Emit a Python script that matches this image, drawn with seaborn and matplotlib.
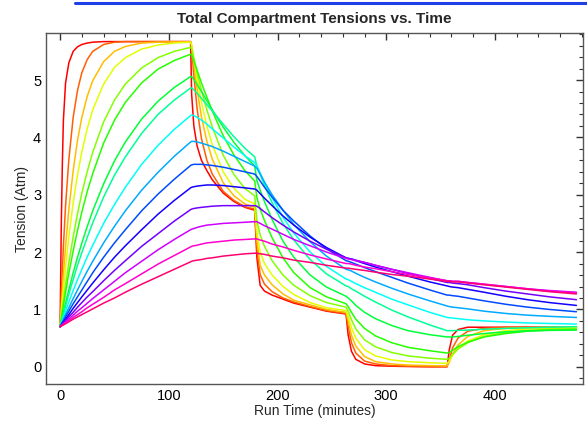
import numpy as np
import pandas as pd
import seaborn as sns
import matplotlib
matplotlib.use("Agg")
import matplotlib.pyplot as plt
from matplotlib.lines import Line2D
from matplotlib.ticker import MultipleLocator

# Run time (minutes) shared by all compartments
run_time = [0, 1, 2, 3, 5, 8, 12, 16, 20, 25, 30, 40, 50, 60, 75, 90, 105, 120,
            121, 123, 126, 130, 135, 140, 150, 160, 170, 179,
            181, 184, 188, 195, 205, 215, 230, 245, 263,
            265, 268, 272, 280, 290, 305, 320, 340, 356,
            358, 361, 366, 375, 390, 410, 430, 450, 475]

# Compartment tensions (Atm), fastest (c01) to slowest (c16)
tension_c01 = [0.70, 2.40, 3.50, 4.30, 4.95, 5.30, 5.50, 5.58, 5.62, 5.645, 5.66, 5.67, 5.67, 5.67, 5.67, 5.67, 5.67, 5.67,
               4.75, 4.20, 3.85, 3.60, 3.42, 3.26, 3.03, 2.88, 2.78, 2.73,
               1.90, 1.42, 1.32, 1.25, 1.18, 1.11, 1.04, 0.97, 0.92,
               0.55, 0.27, 0.13, 0.05, 0.02, 0.01, 0.005, 0.0, 0.0,
               0.30, 0.55, 0.65, 0.69, 0.69, 0.69, 0.69, 0.69, 0.69]
tension_c02 = [0.70, 1.22, 1.68, 2.10, 2.81, 3.61, 4.35, 4.82, 5.13, 5.36, 5.50, 5.62, 5.66, 5.67, 5.67, 5.67, 5.67, 5.67,
               5.56, 5.08, 4.50, 3.98, 3.60, 3.36, 3.06, 2.90, 2.79, 2.75,
               2.05, 1.61, 1.44, 1.31, 1.20, 1.13, 1.05, 0.98, 0.93,
               0.70, 0.42, 0.24, 0.10, 0.05, 0.02, 0.01, 0.005, 0.005,
               0.12, 0.33, 0.50, 0.62, 0.67, 0.69, 0.69, 0.69, 0.69]
tension_c03 = [0.70, 1.02, 1.32, 1.60, 2.10, 2.74, 3.42, 3.95, 4.35, 4.72, 4.99, 5.32, 5.50, 5.585, 5.645, 5.66, 5.665, 5.665,
               5.60, 5.28, 4.84, 4.36, 3.93, 3.62, 3.21, 2.98, 2.84, 2.78,
               2.20, 1.77, 1.60, 1.43, 1.27, 1.16, 1.08, 1.00, 0.95,
               0.80, 0.55, 0.36, 0.18, 0.09, 0.05, 0.03, 0.02, 0.015,
               0.08, 0.22, 0.38, 0.53, 0.63, 0.67, 0.68, 0.69, 0.69]
tension_c04 = [0.70, 0.93, 1.15, 1.36, 1.75, 2.27, 2.86, 3.35, 3.75, 4.16, 4.48, 4.93, 5.22, 5.39, 5.54, 5.61, 5.646, 5.66,
               5.61, 5.37, 5.02, 4.61, 4.20, 3.87, 3.40, 3.11, 2.92, 2.84,
               2.35, 2.00, 1.80, 1.60, 1.40, 1.26, 1.12, 1.03, 0.98,
               0.88, 0.68, 0.50, 0.30, 0.19, 0.12, 0.09, 0.07, 0.06,
               0.10, 0.20, 0.32, 0.45, 0.56, 0.63, 0.66, 0.67, 0.68]
tension_c05 = [0.70, 0.85, 1.00, 1.15, 1.43, 1.81, 2.27, 2.67, 3.03, 3.41, 3.74, 4.27, 4.65, 4.93, 5.21, 5.39, 5.50, 5.57,
               5.54, 5.38, 5.13, 4.82, 4.48, 4.18, 3.69, 3.35, 3.11, 2.98,
               2.55, 2.30, 2.10, 1.85, 1.60, 1.42, 1.24, 1.12, 1.04,
               0.97, 0.82, 0.66, 0.47, 0.35, 0.25, 0.19, 0.15, 0.13,
               0.15, 0.22, 0.31, 0.42, 0.53, 0.60, 0.635, 0.655, 0.665]
tension_c06 = [0.70, 0.83, 0.95, 1.07, 1.30, 1.63, 2.02, 2.38, 2.70, 3.06, 3.37, 3.90, 4.30, 4.61, 4.95, 5.19, 5.34, 5.45,
               5.43, 5.33, 5.17, 4.95, 4.70, 4.46, 4.03, 3.69, 3.42, 3.24,
               2.95, 2.75, 2.55, 2.25, 1.90, 1.64, 1.38, 1.22, 1.10,
               1.05, 0.95, 0.83, 0.67, 0.54, 0.42, 0.34, 0.28, 0.24,
               0.25, 0.29, 0.35, 0.43, 0.52, 0.58, 0.62, 0.64, 0.65]
tension_c07 = [0.70, 0.79, 0.87, 0.95, 1.11, 1.34, 1.64, 1.91, 2.16, 2.45, 2.72, 3.19, 3.59, 3.92, 4.32, 4.63, 4.87, 5.06,
               5.06, 5.01, 4.92, 4.80, 4.64, 4.48, 4.18, 3.91, 3.68, 3.50,
               3.25, 3.08, 2.88, 2.57, 2.19, 1.91, 1.60, 1.39, 1.23,
               1.20, 1.15, 1.07, 0.95, 0.84, 0.72, 0.63, 0.56, 0.52,
               0.52, 0.52, 0.53, 0.55, 0.58, 0.61, 0.625, 0.635, 0.64]
tension_c08 = [0.70, 0.77, 0.85, 0.92, 1.06, 1.27, 1.52, 1.77, 1.99, 2.26, 2.51, 2.96, 3.34, 3.66, 4.07, 4.40, 4.65, 4.86,
               4.86, 4.83, 4.77, 4.68, 4.57, 4.46, 4.23, 4.01, 3.81, 3.66,
               3.50, 3.36, 3.16, 2.86, 2.50, 2.21, 1.87, 1.62, 1.41,
               1.40, 1.36, 1.32, 1.23, 1.13, 0.99, 0.87, 0.73, 0.63,
               0.63, 0.63, 0.635, 0.64, 0.655, 0.67, 0.68, 0.69, 0.70]
tension_c09 = [0.70, 0.75, 0.81, 0.86, 0.97, 1.13, 1.33, 1.52, 1.70, 1.92, 2.12, 2.50, 2.83, 3.13, 3.53, 3.86, 4.14, 4.38,
               4.39, 4.38, 4.35, 4.30, 4.23, 4.15, 3.99, 3.83, 3.68, 3.56,
               3.50, 3.38, 3.21, 2.95, 2.61, 2.33, 2.00, 1.75, 1.53,
               1.52, 1.49, 1.45, 1.38, 1.30, 1.18, 1.08, 0.95, 0.86,
               0.855, 0.85, 0.84, 0.82, 0.80, 0.78, 0.765, 0.755, 0.745]
tension_c10 = [0.70, 0.74, 0.78, 0.83, 0.91, 1.03, 1.19, 1.34, 1.49, 1.67, 1.84, 2.16, 2.45, 2.72, 3.08, 3.39, 3.67, 3.92,
               3.93, 3.93, 3.92, 3.90, 3.87, 3.84, 3.76, 3.67, 3.58, 3.50,
               3.46, 3.36, 3.22, 3.00, 2.73, 2.48, 2.18, 1.93, 1.70,
               1.69, 1.67, 1.63, 1.56, 1.48, 1.37, 1.27, 1.15, 1.06,
               1.05, 1.04, 1.03, 1.01, 0.97, 0.93, 0.90, 0.88, 0.86]
tension_c11 = [0.70, 0.73, 0.77, 0.80, 0.87, 0.97, 1.10, 1.22, 1.34, 1.49, 1.64, 1.91, 2.16, 2.39, 2.72, 3.01, 3.27, 3.51,
               3.52, 3.53, 3.53, 3.53, 3.52, 3.51, 3.48, 3.44, 3.40, 3.36,
               3.32, 3.24, 3.13, 2.96, 2.73, 2.54, 2.28, 2.06, 1.85,
               1.84, 1.82, 1.79, 1.73, 1.66, 1.56, 1.46, 1.34, 1.25,
               1.25, 1.24, 1.23, 1.20, 1.15, 1.09, 1.04, 1.00, 0.96]
tension_c12 = [0.70, 0.73, 0.755, 0.78, 0.83, 0.91, 1.02, 1.12, 1.22, 1.34, 1.46, 1.69, 1.91, 2.11, 2.39, 2.66, 2.90, 3.12,
               3.13, 3.14, 3.15, 3.16, 3.17, 3.17, 3.16, 3.14, 3.12, 3.10,
               3.08, 3.02, 2.94, 2.81, 2.63, 2.47, 2.26, 2.08, 1.90,
               1.89, 1.88, 1.85, 1.80, 1.74, 1.66, 1.58, 1.48, 1.41,
               1.40, 1.39, 1.38, 1.35, 1.30, 1.23, 1.17, 1.12, 1.07]
tension_c13 = [0.70, 0.72, 0.745, 0.765, 0.81, 0.87, 0.95, 1.04, 1.12, 1.22, 1.31, 1.50, 1.68, 1.85, 2.10, 2.32, 2.54, 2.74,
               2.75, 2.76, 2.77, 2.78, 2.79, 2.80, 2.81, 2.81, 2.81, 2.81,
               2.80, 2.76, 2.70, 2.60, 2.47, 2.35, 2.19, 2.05, 1.90,
               1.89, 1.88, 1.86, 1.82, 1.77, 1.70, 1.63, 1.54, 1.47,
               1.47, 1.46, 1.45, 1.43, 1.38, 1.32, 1.27, 1.22, 1.17]
tension_c14 = [0.70, 0.72, 0.735, 0.75, 0.785, 0.835, 0.90, 0.97, 1.03, 1.11, 1.19, 1.34, 1.49, 1.64, 1.84, 2.04, 2.22, 2.39,
               2.40, 2.41, 2.43, 2.45, 2.47, 2.48, 2.50, 2.51, 2.52, 2.53,
               2.53, 2.50, 2.46, 2.40, 2.31, 2.22, 2.11, 2.00, 1.89,
               1.88, 1.87, 1.85, 1.82, 1.77, 1.70, 1.64, 1.56, 1.50,
               1.50, 1.49, 1.49, 1.47, 1.44, 1.40, 1.36, 1.33, 1.30]
tension_c15 = [0.70, 0.71, 0.725, 0.74, 0.77, 0.81, 0.86, 0.91, 0.96, 1.03, 1.09, 1.21, 1.34, 1.45, 1.62, 1.79, 1.94, 2.09,
               2.10, 2.11, 2.12, 2.14, 2.16, 2.17, 2.19, 2.21, 2.22, 2.23,
               2.23, 2.21, 2.19, 2.14, 2.09, 2.03, 1.95, 1.88, 1.80,
               1.80, 1.79, 1.77, 1.74, 1.71, 1.66, 1.61, 1.55, 1.50,
               1.50, 1.49, 1.49, 1.47, 1.44, 1.40, 1.36, 1.32, 1.29]
tension_c16 = [0.70, 0.71, 0.72, 0.73, 0.75, 0.785, 0.83, 0.87, 0.91, 0.96, 1.01, 1.11, 1.20, 1.30, 1.44, 1.57, 1.70, 1.83,
               1.84, 1.85, 1.86, 1.87, 1.89, 1.90, 1.93, 1.95, 1.97, 1.98,
               1.98, 1.97, 1.96, 1.93, 1.90, 1.86, 1.82, 1.77, 1.72,
               1.72, 1.71, 1.70, 1.68, 1.65, 1.61, 1.58, 1.53, 1.49,
               1.49, 1.48, 1.48, 1.46, 1.43, 1.39, 1.35, 1.31, 1.27]

compartments = [tension_c01, tension_c02, tension_c03, tension_c04, tension_c05, tension_c06,
                tension_c07, tension_c08, tension_c09, tension_c10, tension_c11, tension_c12,
                tension_c13, tension_c14, tension_c15, tension_c16]

# Long-form table for seaborn
frames = []
for i, vals in enumerate(compartments):
    frames.append(pd.DataFrame({'time': run_time, 'tension': vals, 'comp': i + 1}))
df = pd.concat(frames, ignore_index=True)

sns.set_style("white")
plt.rcParams['font.family'] = ['Liberation Sans', 'DejaVu Sans']

# rainbow: red (fast) through magenta to crimson (slow)
palette = [plt.cm.hsv(h) for h in np.linspace(0, 0.94, len(compartments))]

fig = plt.figure(figsize=(5.87, 4.22), dpi=100)
ax = fig.add_axes([46 / 587, 1 - 384 / 422, (583 - 46) / 587, (384 - 33) / 422])

sns.lineplot(data=df, x='time', y='tension', hue='comp', palette=palette,
             legend=False, linewidth=1.1, ax=ax, estimator=None, sort=False)

ax.set_xlim(-13, 481)
ax.set_ylim(-0.3, 5.82)
ax.xaxis.set_major_locator(MultipleLocator(100))
ax.xaxis.set_minor_locator(MultipleLocator(20))
ax.yaxis.set_major_locator(MultipleLocator(1))
ax.yaxis.set_minor_locator(MultipleLocator(0.2))
ax.tick_params(which='both', direction='in', top=True, right=True, colors='#333333',
               labelcolor='black', labelsize=10.5)
ax.tick_params(which='major', length=5, width=1)
ax.tick_params(which='minor', length=3, width=0.8)
for s in ax.spines.values():
    s.set_color('#555555')
    s.set_linewidth(1.0)

ax.set_xlabel('Run Time (minutes)', fontsize=10, labelpad=1)
ax.set_ylabel('Tension (Atm)', fontsize=10, labelpad=3)
ax.set_title('Total Compartment Tensions vs. Time', fontsize=11, fontweight='bold', pad=7)

# decorative blue rule across the top
fig.add_artist(Line2D([75 / 587, 1.0], [1 - 2.5 / 422, 1 - 2.5 / 422], color='#1f3fe6', linewidth=2.2))

fig.savefig('out.png', dpi=100)
